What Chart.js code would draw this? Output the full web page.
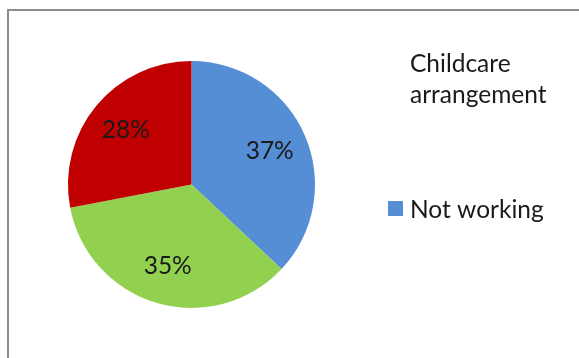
<!DOCTYPE html>
<html><head><meta charset="utf-8">
<script src="https://cdn.jsdelivr.net/npm/chart.js@4"></script>
<style>html,body{margin:0;padding:0;background:#fff;}canvas{display:block;}</style>
</head><body>
<canvas id="c" width="579" height="358"></canvas>
<script>
const categories = ["Not working", "Informal care", "Formal care"];
const shares = [37, 35, 28];
const sliceColors = ["#558ED5", "#92D050", "#C00000"];
const legendTitle = ["Childcare", "arrangement"];
const legendShown = ["Not working"];

const FONT = "Lato, 'Liberation Sans', sans-serif";

const framePlugin = {
  id: 'frame',
  beforeDraw(chart) {
    const ctx = chart.ctx;
    ctx.save();
    ctx.fillStyle = '#fff';
    ctx.fillRect(0, 0, chart.width, chart.height);
    ctx.strokeStyle = '#8c8c8c';
    ctx.lineWidth = 2;
    ctx.strokeRect(8, 10, 600, 400);
    ctx.restore();
  }
};

const labelPlugin = {
  id: 'pctLabels',
  afterDatasetsDraw(chart) {
    const ctx = chart.ctx;
    const meta = chart.getDatasetMeta(0);
    const data = chart.data.datasets[0].data;
    const total = data.reduce((a, b) => a + b, 0);
    ctx.save();
    ctx.font = "24.5px " + FONT;
    ctx.fillStyle = '#1a1a1a';
    ctx.textAlign = 'center';
    ctx.textBaseline = 'middle';
    meta.data.forEach((arc, i) => {
      const p = arc.getProps(['x', 'y', 'startAngle', 'endAngle', 'outerRadius'], true);
      const mid = (p.startAngle + p.endAngle) / 2;
      const r = p.outerRadius * 0.69;
      ctx.fillText(Math.round(data[i] / total * 100) + '%', p.x + Math.cos(mid) * r, p.y + Math.sin(mid) * r);
    });
    ctx.restore();
  }
};

const legendPlugin = {
  id: 'customLegend',
  afterDraw(chart) {
    const ctx = chart.ctx;
    ctx.save();
    ctx.font = "24.5px " + FONT;
    ctx.fillStyle = '#1a1a1a';
    ctx.textAlign = 'left';
    ctx.textBaseline = 'alphabetic';
    legendTitle.forEach((t, i) => ctx.fillText(t, 410, 72 + i * 31));
    legendShown.forEach((name, i) => {
      const idx = categories.indexOf(name);
      ctx.fillStyle = sliceColors[idx];
      ctx.fillRect(388, 201 + i * 30, 15, 15);
      ctx.fillStyle = '#1a1a1a';
      ctx.fillText(name, 410, 218 + i * 30);
    });
    ctx.restore();
  }
};

new Chart(document.getElementById('c'), {
  type: 'pie',
  data: {
    labels: categories,
    datasets: [{ data: shares, backgroundColor: sliceColors, borderWidth: 0 }]
  },
  options: {
    responsive: false,
    devicePixelRatio: 1,
    animation: false,
    layout: { padding: { left: 68, top: 61, right: 264, bottom: 50 } },
    plugins: { legend: { display: false }, tooltip: { enabled: false } }
  },
  plugins: [framePlugin, labelPlugin, legendPlugin]
});
</script>
</body></html>
